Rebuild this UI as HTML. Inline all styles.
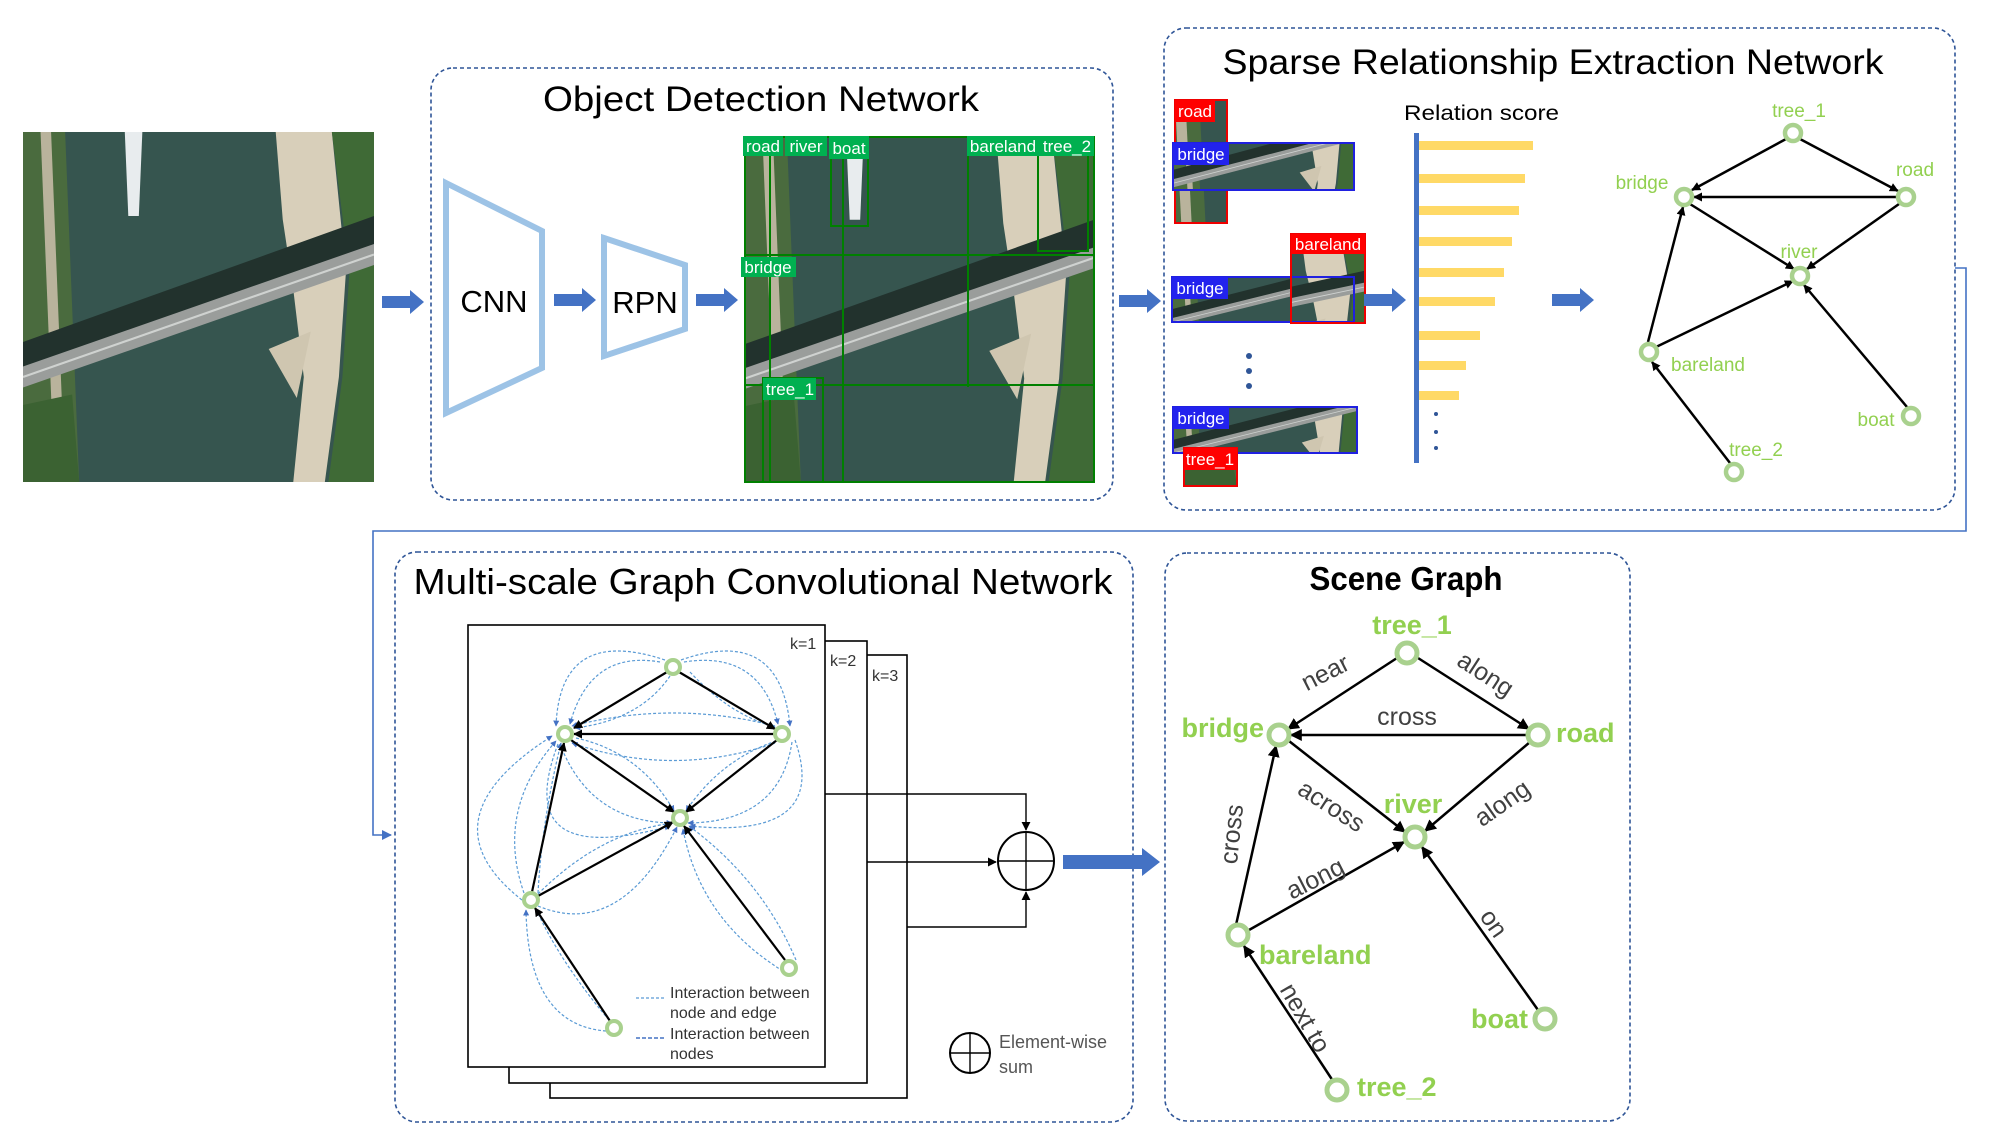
<!DOCTYPE html>
<html><head><meta charset="utf-8"><style>html,body{margin:0;padding:0;background:#fff}svg{display:block}</style></head><body>
<svg width="2000" height="1145" viewBox="0 0 2000 1145" xmlns="http://www.w3.org/2000/svg" font-family="Liberation Sans, sans-serif">
<defs>
<symbol id="aer" viewBox="0 0 100 100" preserveAspectRatio="none">
<rect width="100" height="100" fill="#36554f"/>
<path d="M0,0 H12 L16,100 H0Z" fill="#4a6b3e"/>
<path d="M5,0 L8,0 L12,100 L9,100Z" fill="#b9b39c"/>
<path d="M72,0 H88 L92,40 L90,70 L86,100 H77 L80,70 L77,45 L74,25Z" fill="#d8cfba"/>
<path d="M88,0 H100 V100 H87 L91,70 L93,40Z" fill="#3f6a36"/>
<path d="M70,62 L82,57 L78,76Z" fill="#cfc6b0"/>
<path d="M0,60 L100,24 V36 L0,72Z" fill="#22322d"/>
<path d="M0,67 L100,32 V38 L0,73Z" fill="#9a9d9b"/>
<path d="M0,70 L100,35" stroke="#cfd2d0" stroke-width="0.6"/>
<path d="M29,0 H34 L33,24 H30Z" fill="#e8ecee"/>
<path d="M0,100 L16,100 L14,75 L0,78Z" fill="#3b6232"/>
</symbol>
<marker id="ah" viewBox="0 0 10 10" refX="9" refY="5" markerWidth="9" markerHeight="9" orient="auto-start-reverse" markerUnits="userSpaceOnUse"><path d="M0,0 L10,5 L0,10Z" fill="#000"/></marker>
<marker id="ah2" viewBox="0 0 10 10" refX="9" refY="5" markerWidth="12" markerHeight="12" orient="auto" markerUnits="userSpaceOnUse"><path d="M0,0 L10,5 L0,10Z" fill="#000"/></marker>
<marker id="bh" viewBox="0 0 10 10" refX="9" refY="5" markerWidth="6" markerHeight="6" orient="auto" markerUnits="userSpaceOnUse"><path d="M0,0 L10,5 L0,10Z" fill="#4472c4"/></marker>
<marker id="fh" viewBox="0 0 10 10" refX="9" refY="5" markerWidth="10" markerHeight="10" orient="auto" markerUnits="userSpaceOnUse"><path d="M0,0 L10,5 L0,10Z" fill="#4472c4"/></marker>
<g id="barrow"><path d="M0,-6 H28 V-12 L42,0 L28,12 V6 H0Z" fill="#4472c4"/></g>
</defs>

<svg x="23" y="132" width="351" height="350"><use href="#aer" width="351" height="350"/></svg>
<use href="#barrow" x="382" y="302"/>

<rect x="431" y="68" width="682" height="432" rx="22" fill="none" stroke="#2f5597" stroke-width="1.6" stroke-dasharray="4 3"/>
<text x="761" y="111" font-size="35" text-anchor="middle" textLength="436" lengthAdjust="spacingAndGlyphs">Object Detection Network</text>
<path d="M446,183 L542,231 L542,368 L446,413Z" fill="none" stroke="#9dc3e6" stroke-width="6"/>
<text x="494" y="312" font-size="31" text-anchor="middle">CNN</text>
<use href="#barrow" x="554" y="300"/>
<path d="M604,238 L685,265 L685,329 L604,356Z" fill="none" stroke="#9dc3e6" stroke-width="6"/>
<text x="645" y="313" font-size="31" text-anchor="middle">RPN</text>
<use href="#barrow" x="696" y="300"/>
<svg x="745" y="137" width="349" height="345"><use href="#aer" width="349" height="345"/></svg>
<g fill="none" stroke="#008000" stroke-width="2">
<rect x="745" y="137" width="349" height="345"/>
<line x1="843" y1="137" x2="843" y2="482"/><line x1="968" y1="137" x2="968" y2="387"/>
<line x1="745" y1="255" x2="1094" y2="255"/><line x1="745" y1="385" x2="1094" y2="385"/>
<rect x="1038" y="137" width="50" height="114"/><rect x="831" y="137" width="37" height="89"/>
<rect x="745" y="137" width="25" height="345"/><rect x="763" y="378" width="60" height="104"/>
</g>
<g fill="#00b050"><rect x="743" y="136" width="40" height="20"/><rect x="785" y="136" width="42" height="20"/><rect x="829" y="136" width="40" height="23"/><rect x="967" y="136" width="73" height="20"/><rect x="1040" y="136" width="54" height="20"/><rect x="741" y="257" width="55" height="20"/><rect x="763" y="378" width="53" height="22"/></g>
<g fill="#fff" font-size="17" text-anchor="middle"><text x="763" y="152">road</text><text x="806" y="152">river</text><text x="849" y="154">boat</text><text x="1003" y="152">bareland</text><text x="1067" y="152">tree_2</text><text x="768" y="273">bridge</text><text x="790" y="395">tree_1</text></g>
<use href="#barrow" x="1119" y="301"/>

<rect x="1164" y="28" width="791" height="482" rx="22" fill="none" stroke="#2f5597" stroke-width="1.6" stroke-dasharray="4 3"/>
<text x="1553" y="74" font-size="35" text-anchor="middle" textLength="661" lengthAdjust="spacingAndGlyphs">Sparse Relationship Extraction Network</text>
<svg x="1175" y="100" width="52" height="123" viewBox="5 0 15 45" preserveAspectRatio="none"><use href="#aer" width="100" height="100"/></svg>
<rect x="1175" y="100" width="52" height="123" fill="none" stroke="#e00" stroke-width="2"/>
<svg x="1173" y="143" width="181" height="47" viewBox="0 40 100 35" preserveAspectRatio="none"><use href="#aer" width="100" height="100"/></svg>
<rect x="1173" y="143" width="181" height="47" fill="none" stroke="#2020e0" stroke-width="2"/>
<rect x="1175" y="100" width="40" height="22" fill="#f00"/><text x="1195" y="117" fill="#fff" font-size="17" text-anchor="middle">road</text>
<rect x="1173" y="143" width="56" height="22" fill="#22e"/><text x="1201" y="160" fill="#fff" font-size="17" text-anchor="middle">bridge</text>
<svg x="1172" y="277" width="182" height="45" viewBox="0 35 100 35" preserveAspectRatio="none"><use href="#aer" width="100" height="100"/></svg>
<svg x="1291" y="234" width="74" height="89" viewBox="68 0 30 60" preserveAspectRatio="none"><use href="#aer" width="100" height="100"/></svg>
<rect x="1172" y="277" width="182" height="45" fill="none" stroke="#2020e0" stroke-width="2"/>
<rect x="1291" y="234" width="74" height="89" fill="none" stroke="#e00" stroke-width="2"/>
<rect x="1291" y="234" width="74" height="20" fill="#f00"/><text x="1328" y="250" fill="#fff" font-size="17" text-anchor="middle">bareland</text>
<rect x="1172" y="277" width="56" height="22" fill="#22e"/><text x="1200" y="294" fill="#fff" font-size="17" text-anchor="middle">bridge</text>
<g fill="#2f5597"><circle cx="1249" cy="356" r="3"/><circle cx="1249" cy="371" r="3"/><circle cx="1249" cy="386" r="3"/></g>
<svg x="1173" y="407" width="184" height="46" viewBox="0 35 100 35" preserveAspectRatio="none"><use href="#aer" width="100" height="100"/></svg>
<rect x="1173" y="407" width="184" height="46" fill="none" stroke="#2020e0" stroke-width="2"/>
<svg x="1184" y="448" width="53" height="38" viewBox="0 75 16 25" preserveAspectRatio="none"><use href="#aer" width="100" height="100"/></svg>
<rect x="1184" y="448" width="53" height="38" fill="none" stroke="#e00" stroke-width="2"/>
<rect x="1173" y="407" width="56" height="22" fill="#22e"/><text x="1201" y="424" fill="#fff" font-size="17" text-anchor="middle">bridge</text>
<rect x="1184" y="448" width="53" height="22" fill="#f00"/><text x="1210" y="465" fill="#fff" font-size="17" text-anchor="middle">tree_1</text>
<use href="#barrow" x="1364" y="300"/>
<text x="1404" y="120" font-size="21" textLength="155" lengthAdjust="spacingAndGlyphs">Relation score</text>
<rect x="1414" y="133" width="5" height="330" fill="#4472c4"/>
<g fill="#ffd966"><rect x="1419" y="141" width="114" height="9"/><rect x="1419" y="174" width="106" height="9"/><rect x="1419" y="206" width="100" height="9"/><rect x="1419" y="237" width="93" height="9"/><rect x="1419" y="268" width="85" height="9"/><rect x="1419" y="297" width="76" height="9"/><rect x="1419" y="331" width="61" height="9"/><rect x="1419" y="361" width="47" height="9"/><rect x="1419" y="391" width="40" height="9"/></g>
<g fill="#2f5597"><circle cx="1436" cy="414" r="2"/><circle cx="1436" cy="432" r="2"/><circle cx="1436" cy="448" r="2"/></g>
<use href="#barrow" x="1552" y="300"/>
<g stroke="#000" stroke-width="2.5" fill="none" marker-end="url(#ah)">
<line x1="1786" y1="139" x2="1692" y2="190"/><line x1="1800" y1="139" x2="1898" y2="191"/>
<line x1="1896" y1="197" x2="1694" y2="197"/><line x1="1690" y1="204" x2="1794" y2="269"/>
<line x1="1899" y1="204" x2="1807" y2="269"/><line x1="1656" y1="347" x2="1793" y2="281"/>
<line x1="1648" y1="342" x2="1683" y2="207"/><line x1="1730" y1="463" x2="1652" y2="362"/>
<line x1="1907" y1="407" x2="1804" y2="285"/>
</g>
<g fill="#fff" stroke="#a9d18e" stroke-width="4.5"><circle cx="1793" cy="133" r="8"/><circle cx="1906" cy="197" r="8"/><circle cx="1684" cy="197" r="8"/><circle cx="1800" cy="276" r="8"/><circle cx="1649" cy="352" r="8"/><circle cx="1911" cy="416" r="8"/><circle cx="1734" cy="472" r="8"/></g>
<g fill="#92d050" font-size="19"><text x="1799" y="117" text-anchor="middle">tree_1</text><text x="1915" y="176" text-anchor="middle">road</text><text x="1642" y="189" text-anchor="middle">bridge</text><text x="1799" y="258" text-anchor="middle">river</text><text x="1708" y="371" text-anchor="middle">bareland</text><text x="1876" y="426" text-anchor="middle">boat</text><text x="1756" y="456" text-anchor="middle">tree_2</text></g>
<polyline points="1955,268 1966,268 1966,531 373,531 373,835 391,835" fill="none" stroke="#4472c4" stroke-width="1.6" marker-end="url(#fh)"/>

<rect x="395" y="552" width="738" height="570" rx="22" fill="none" stroke="#2f5597" stroke-width="1.6" stroke-dasharray="4 3"/>
<text x="763" y="594" font-size="36" text-anchor="middle" textLength="699" lengthAdjust="spacingAndGlyphs">Multi-scale Graph Convolutional Network</text>
<rect x="550" y="655" width="357" height="443" fill="#fff" stroke="#000" stroke-width="1.6"/>
<rect x="509" y="641" width="358" height="442" fill="#fff" stroke="#000" stroke-width="1.6"/>
<rect x="468" y="625" width="357" height="442" fill="#fff" stroke="#000" stroke-width="1.6"/>
<g font-size="16" fill="#333"><text x="790" y="649">k=1</text><text x="830" y="666">k=2</text><text x="872" y="681">k=3</text></g>
<g fill="none" stroke="#000" stroke-width="1.4">
<polyline points="825,794 1026,794 1026,830" marker-end="url(#ah)"/>
<polyline points="867,862 996,862" marker-end="url(#ah)"/>
<polyline points="907,927 1026,927 1026,892" marker-end="url(#ah)"/>
<ellipse cx="1026" cy="861" rx="28" ry="29" stroke-width="2"/>
<line x1="998" y1="861" x2="1054" y2="861"/><line x1="1026" y1="832" x2="1026" y2="890"/>
<circle cx="970" cy="1053" r="20" stroke-width="2"/><line x1="950" y1="1053" x2="990" y2="1053"/><line x1="970" y1="1033" x2="970" y2="1073"/>
</g>
<path d="M1063,855 H1142 V848 L1160,862 L1142,876 V869 H1063Z" fill="#4472c4"/>
<g font-size="18" fill="#555"><text x="999" y="1048">Element-wise</text><text x="999" y="1073">sum</text></g>
<g fill="none" stroke="#5b9bd5" stroke-width="1.2" stroke-dasharray="3 2" marker-end="url(#bh)">
<path d="M665,660 Q560,625 556,726"/><path d="M670,676 Q640,720 575,728"/><path d="M660,662 Q590,650 570,724"/>
<path d="M681,660 Q780,625 790,726"/><path d="M690,672 Q730,715 775,727"/><path d="M684,662 Q760,650 778,724"/>
<path d="M775,743 Q673,778 572,743"/><path d="M775,726 Q673,700 572,726"/>
<path d="M560,744 Q590,822 672,823"/><path d="M576,738 Q640,752 674,811"/><path d="M558,744 Q510,870 670,826"/>
<path d="M792,742 Q780,822 688,823"/><path d="M776,741 Q720,760 686,811"/><path d="M795,740 Q830,840 690,826"/>
<path d="M524,893 Q495,810 556,741"/><path d="M538,893 Q542,820 561,743"/><path d="M522,900 Q420,820 552,736"/>
<path d="M538,906 Q620,940 677,827"/><path d="M538,894 Q600,832 673,823"/>
<path d="M606,1031 Q528,1025 526,910"/><path d="M609,1020 Q560,962 536,909"/>
<path d="M783,971 Q700,920 683,829"/><path d="M796,960 Q762,880 689,826"/>
</g>
<g stroke="#000" stroke-width="2.2" fill="none" marker-end="url(#ah)">
<line x1="667" y1="672" x2="574" y2="728"/><line x1="679" y1="672" x2="775" y2="729"/>
<line x1="774" y1="734" x2="574" y2="734"/><line x1="571" y1="740" x2="674" y2="812"/>
<line x1="777" y1="740" x2="686" y2="812"/><line x1="538" y1="896" x2="673" y2="822"/>
<line x1="532" y1="892" x2="564" y2="743"/><line x1="610" y1="1021" x2="535" y2="908"/>
<line x1="785" y1="960" x2="684" y2="826"/>
</g>
<g fill="#fff" stroke="#a9d18e" stroke-width="4"><circle cx="673" cy="667" r="7"/><circle cx="565" cy="734" r="7"/><circle cx="782" cy="734" r="7"/><circle cx="680" cy="818" r="7"/><circle cx="531" cy="900" r="7"/><circle cx="789" cy="968" r="7"/><circle cx="614" cy="1028" r="7"/></g>
<line x1="636" y1="998" x2="664" y2="998" stroke="#5b9bd5" stroke-width="1.2" stroke-dasharray="3 2"/>
<line x1="636" y1="1038" x2="664" y2="1038" stroke="#4472c4" stroke-width="1.6" stroke-dasharray="4 2"/>
<g font-size="16" fill="#333"><text x="670" y="998">Interaction between</text><text x="670" y="1018">node and edge</text><text x="670" y="1039">Interaction between</text><text x="670" y="1059">nodes</text></g>

<rect x="1165" y="553" width="465" height="568" rx="22" fill="none" stroke="#2f5597" stroke-width="1.6" stroke-dasharray="4 3"/>
<text x="1406" y="590" font-size="33" font-weight="bold" text-anchor="middle" textLength="193" lengthAdjust="spacingAndGlyphs">Scene Graph</text>
<g stroke="#000" stroke-width="2.5" fill="none" marker-end="url(#ah2)">
<line x1="1397" y1="658" x2="1288" y2="729"/><line x1="1418" y1="658" x2="1529" y2="729"/>
<line x1="1527" y1="735" x2="1291" y2="735"/><line x1="1289" y1="741" x2="1405" y2="832"/>
<line x1="1530" y1="742" x2="1425" y2="831"/><line x1="1249" y1="930" x2="1404" y2="842"/>
<line x1="1236" y1="925" x2="1276" y2="746"/><line x1="1333" y1="1081" x2="1244" y2="946"/>
<line x1="1538" y1="1010" x2="1422" y2="847"/>
</g>
<g fill="#fff" stroke="#a9d18e" stroke-width="5"><circle cx="1407" cy="653" r="10"/><circle cx="1279" cy="735" r="10"/><circle cx="1538" cy="735" r="10"/><circle cx="1415" cy="837" r="10"/><circle cx="1238" cy="935" r="10"/><circle cx="1545" cy="1019" r="10"/><circle cx="1337" cy="1090" r="10"/></g>
<g fill="#92d050" font-size="27" font-weight="bold"><text x="1412" y="634" text-anchor="middle">tree_1</text><text x="1264" y="737" text-anchor="end">bridge</text><text x="1556" y="742">road</text><text x="1413" y="813" text-anchor="middle">river</text><text x="1259" y="964">bareland</text><text x="1528" y="1028" text-anchor="end">boat</text><text x="1357" y="1096">tree_2</text></g>
<g fill="#404040" font-size="25" text-anchor="middle">
<text transform="translate(1329,680) rotate(-27)">near</text>
<text transform="translate(1481,681) rotate(33)">along</text>
<text x="1407" y="725">cross</text>
<text transform="translate(1327,813) rotate(33)">across</text>
<text transform="translate(1507,810) rotate(-35)">along</text>
<text transform="translate(1240,835) rotate(-84)">cross</text>
<text transform="translate(1319,886) rotate(-27)">along</text>
<text transform="translate(1487,928) rotate(55)">on</text>
<text transform="translate(1298,1022) rotate(60)">next to</text>
</g>
</svg>
</body></html>
